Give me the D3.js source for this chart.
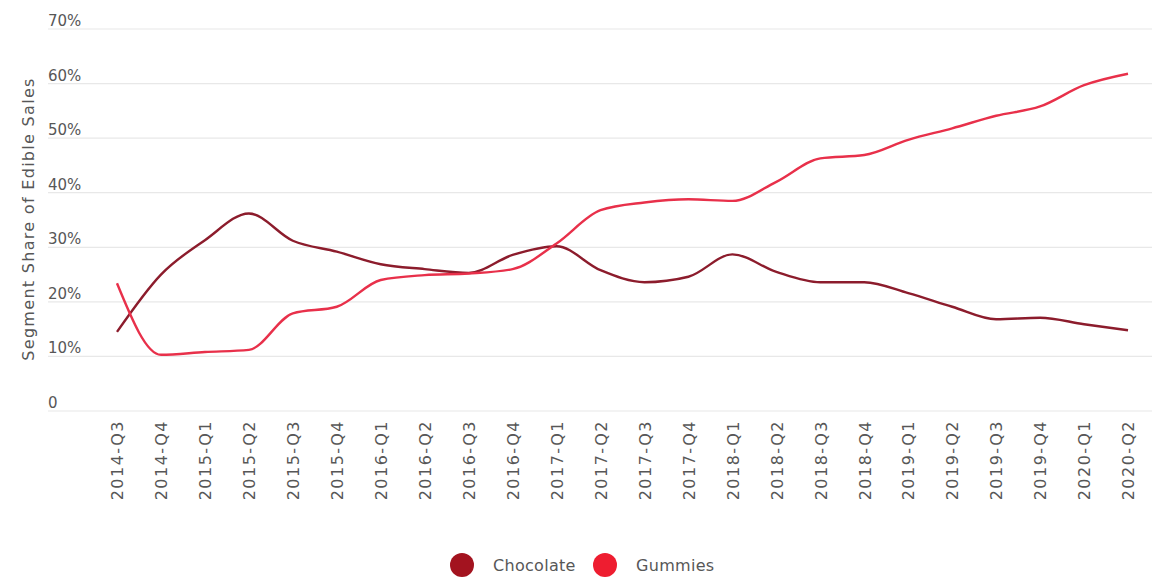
<!DOCTYPE html>
<html>
<head>
<meta charset="utf-8">
<script src="https://cdn.jsdelivr.net/npm/d3@7"></script>
<style>
  html, body { margin: 0; padding: 0; background: #fff; }
  svg { display: block; font-family: "DejaVu Sans", "Open Sans", sans-serif; }
</style>
</head>
<body>
<svg id="chart" width="1163" height="577"></svg>
<script>
// Quarterly share of edible sales by segment (%)
const quarters = [
  "2014-Q3", "2014-Q4", "2015-Q1", "2015-Q2", "2015-Q3", "2015-Q4",
  "2016-Q1", "2016-Q2", "2016-Q3", "2016-Q4", "2017-Q1", "2017-Q2",
  "2017-Q3", "2017-Q4", "2018-Q1", "2018-Q2", "2018-Q3", "2018-Q4",
  "2019-Q1", "2019-Q2", "2019-Q3", "2019-Q4", "2020-Q1", "2020-Q2"
];
const chocolate = [
  14.5, 25.0, 31.3, 36.2, 31.2, 29.2, 26.9, 26.0, 25.3, 28.6, 30.2, 25.8,
  23.6, 24.6, 28.7, 25.5, 23.6, 23.6, 21.6, 19.1, 16.8, 17.1, 15.9, 14.8
];
const gummies = [
  23.4, 10.3, 10.8, 11.2, 17.9, 19.1, 24.0, 24.9, 25.2, 26.0, 30.7, 36.8,
  38.2, 38.8, 38.5, 42.0, 46.3, 46.9, 49.7, 51.8, 54.1, 55.8, 59.7, 61.8
];
const yTicks = [0, 10, 20, 30, 40, 50, 60, 70];
const seriesNames = ["Chocolate", "Gummies"];
const lineColors = ["#8c1c2c", "#e8304a"];
const dotColors = ["#a3131f", "#ee1d30"];

const textColor = "#575757";
const svg = d3.select("#chart");

const x = d3.scalePoint().domain(quarters).range([117, 1128]);
const y = d3.scaleLinear().domain([0, 70]).range([411, 29]);

// Horizontal gridlines with labels sitting just above each line
const grid = svg.append("g");
grid.selectAll("line")
  .data(yTicks)
  .join("line")
  .attr("x1", 48).attr("x2", 1152)
  .attr("y1", d => y(d)).attr("y2", d => y(d))
  .attr("stroke", "#e8e8e8").attr("stroke-width", 1.2);
grid.selectAll("text")
  .data(yTicks)
  .join("text")
  .attr("x", 48)
  .attr("y", d => y(d) - 3)
  .attr("fill", textColor)
  .attr("font-size", 15)
  .text(d => d === 0 ? "0" : d + "%");

// Y-axis title
svg.append("text")
  .attr("transform", "translate(34,219) rotate(-90)")
  .attr("text-anchor", "middle")
  .attr("fill", textColor)
  .attr("font-size", 16)
  .attr("letter-spacing", 1.3)
  .text("Segment Share of Edible Sales");

// Rotated quarter labels
const xAxis = d3.axisBottom(x).tickSize(0).tickPadding(0);
const xg = svg.append("g").attr("transform", "translate(0,420)").call(xAxis);
xg.select(".domain").remove();
xg.selectAll("text")
  .attr("transform", "rotate(-90)")
  .attr("x", 0)
  .attr("y", 0)
  .attr("dx", 0)
  .attr("dy", "0.36em")
  .attr("text-anchor", "end")
  .attr("fill", textColor)
  .attr("font-size", 16)
  .attr("letter-spacing", 1.5)
  .attr("font-family", "'DejaVu Sans', 'Open Sans', sans-serif");

// Series lines
const line = d3.line()
  .x((d, i) => x(quarters[i]))
  .y(d => y(d))
  .curve(d3.curveMonotoneX);

[chocolate, gummies].forEach((vals, k) => {
  svg.append("path")
    .datum(vals)
    .attr("fill", "none")
    .attr("stroke", lineColors[k])
    .attr("stroke-width", 2.4)
    .attr("stroke-linejoin", "round")
    .attr("d", line);
});

// Legend
const legendX = [462, 605];
const legend = svg.append("g");
seriesNames.forEach((name, k) => {
  legend.append("circle")
    .attr("cx", legendX[k]).attr("cy", 565).attr("r", 12)
    .attr("fill", dotColors[k]);
  legend.append("text")
    .attr("x", legendX[k] + 31).attr("y", 565)
    .attr("dy", "0.36em")
    .attr("fill", textColor)
    .attr("font-size", 16)
    .attr("letter-spacing", 0.3)
    .text(name);
});
</script>
</body>
</html>
